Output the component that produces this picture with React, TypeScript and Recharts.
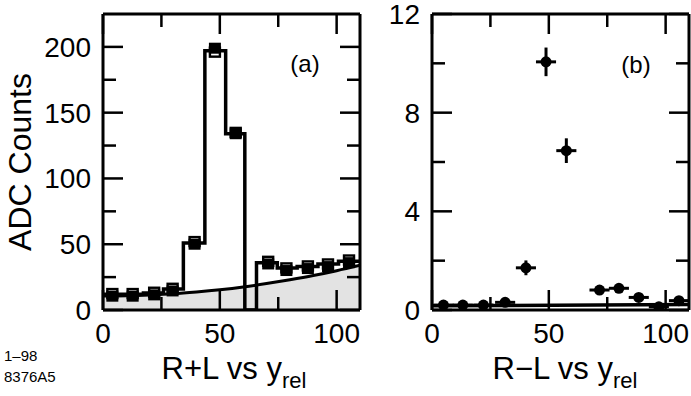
import { ComposedChart, XAxis, YAxis, Line, Area, Scatter, ErrorBar } from 'recharts';

// panel (a): R+L, ADC counts per y_rel bin
const HIST_EDGES = [0, 8.3, 17.3, 25.9, 34.4, 43.6, 52.5, 60.7, 65.7, 74.6, 83.1, 92, 100.8, 110];
const HIST_COUNTS = [12, 12, 13, 16, 51, 197, 134, 0, 36, 32, 33, 35, 37, 37];

const PT_X_A = [4, 12.7, 21.9, 29.8, 39.2, 47.9, 56.8, 70.7, 78.5, 87.7, 96.3, 105.3];
const FILLED_A = [10.5, 10.5, 11.5, 14.5, 50, 199, 134, 35, 30, 31.5, 33, 36];
const OPEN_A = [12.5, 12.5, 13.5, 16.5, 52, 196, 135, 37, 32, 33.5, 35, 38];

const BG_X = [0, 10, 20, 30, 40, 50, 60, 70, 80, 90, 100, 110];
const BG_Y = [10.6, 10.8, 11.4, 12.3, 13.7, 15.4, 17.5, 20.1, 23, 26.2, 29.9, 34];

// panel (b): R-L
const PT_X_B = [4.9, 13.2, 22, 31.3, 40.2, 48.8, 57.5, 71.7, 80, 88.5, 97.1, 105.7];
const VAL_B = [0.2, 0.2, 0.2, 0.31, 1.71, 10.06, 6.46, 0.81, 0.88, 0.51, 0.13, 0.38];
const ERR_Y_B = [0.1, 0.1, 0.1, 0.12, 0.3, 0.58, 0.5, 0.15, 0.15, 0.15, 0.15, 0.15];
const ERR_X_B = [4.3, 4.3, 4.3, 4.3, 4.3, 4.3, 4.3, 4.3, 4.3, 4.3, 4.3, 4.3];
const FIT_B_X = [0, 110];
const FIT_B_Y = [0.17, 0.22];

const X_TICKS = [0, 25, 50, 75, 100];
const X_MAJOR = [0, 50, 100];
const Y_TICKS_A = [0, 25, 50, 75, 100, 125, 150, 175, 200];
const Y_MAJOR_A = [0, 50, 100, 150, 200];
const Y_TICKS_B = [0, 2, 4, 6, 8, 10, 12];
const Y_MAJOR_B = [0, 4, 8, 12];

const FONT = '"Liberation Sans", Arial, Helvetica, sans-serif';
const MAJOR_LEN = 20;
const MINOR_LEN = 13;

const histData = HIST_EDGES.map((x, i) => ({ x, y: HIST_COUNTS[i] }));
const filledA = PT_X_A.map((x, i) => ({ x, y: FILLED_A[i] }));
const openA = PT_X_A.map((x, i) => ({ x, y: OPEN_A[i] }));
const bgData = BG_X.map((x, i) => ({ x, y: BG_Y[i] }));
const ptsB = PT_X_B.map((x, i) => ({ x, y: VAL_B[i], ex: ERR_X_B[i], ey: ERR_Y_B[i] }));
const fitB = FIT_B_X.map((x, i) => ({ x, y: FIT_B_Y[i] }));

type Side = 'bottom' | 'top' | 'left' | 'right';

// ticks point inward, labels only on the major ones of the bottom/left axes
function makeTick(side: Side, majors: number[], showLabel: boolean) {
  return (props: any) => {
    const { x, y, payload } = props;
    const v = payload.value;
    const len = majors.includes(v) ? MAJOR_LEN : MINOR_LEN;
    const ln = { stroke: '#000', strokeWidth: 2.5 };
    let line = null;
    let label = null;
    if (side === 'bottom') {
      line = <line x1={x} y1={y} x2={x} y2={y - len} {...ln} />;
      if (showLabel && majors.includes(v))
        label = <text x={x} y={y + 33} textAnchor="middle" fontSize={28} fontFamily={FONT}>{v}</text>;
    } else if (side === 'top') {
      line = <line x1={x} y1={y} x2={x} y2={y + len} {...ln} />;
    } else if (side === 'left') {
      line = <line x1={x} y1={y} x2={x + len} y2={y} {...ln} />;
      if (showLabel && majors.includes(v))
        label = <text x={x - 12} y={y + 10} textAnchor="end" fontSize={28} fontFamily={FONT}>{v}</text>;
    } else {
      line = <line x1={x} y1={y} x2={x - len} y2={y} {...ln} />;
    }
    return <g>{line}{label}</g>;
  };
}

const AXIS_LINE = { stroke: '#000', strokeWidth: 3 };

const FilledSquare = (p: any) => <rect x={p.cx - 6} y={p.cy - 5.5} width={12} height={11} fill="#000" />;
const OpenSquare = (p: any) => (
  <rect x={p.cx - 5} y={p.cy - 4.5} width={10} height={9} fill="#fff" stroke="#000" strokeWidth={2.4} />
);
const Dot = (p: any) => <circle cx={p.cx} cy={p.cy} r={5.5} fill="#000" />;

function axes(yTicks: number[], yMajor: number[], yMax: number, leftWidth: number) {
  return [
    <XAxis key="xb" dataKey="x" type="number" domain={[0, 110]} ticks={X_TICKS} interval={0}
      height={86} tickSize={0} tickMargin={0} axisLine={AXIS_LINE} tickLine={false}
      tick={makeTick('bottom', X_MAJOR, true)} allowDataOverflow />,
    <XAxis key="xt" xAxisId="top" orientation="top" dataKey="x" type="number" domain={[0, 110]} ticks={X_TICKS}
      interval={0} height={1} tickSize={0} tickMargin={0} axisLine={AXIS_LINE} tickLine={false}
      tick={makeTick('top', X_MAJOR, false)} allowDataOverflow />,
    <YAxis key="yl" type="number" domain={[0, yMax]} ticks={yTicks} interval={0} width={leftWidth}
      tickSize={0} tickMargin={0} axisLine={AXIS_LINE} tickLine={false}
      tick={makeTick('left', yMajor, true)} allowDataOverflow />,
    <YAxis key="yr" yAxisId="right" orientation="right" type="number" domain={[0, yMax]} ticks={yTicks}
      interval={0} width={1} tickSize={0} tickMargin={0} axisLine={AXIS_LINE} tickLine={false}
      tick={makeTick('right', yMajor, false)} allowDataOverflow />,
  ];
}

export default function App() {
  return (
    <div style={{ position: 'absolute', left: 0, top: 0, width: 691, height: 396, background: '#fff', fontFamily: FONT }}>
      <div style={{ position: 'absolute', left: 0, top: 0 }}>
        <ComposedChart width={370} height={396} margin={{ top: 13, right: 9, bottom: 0, left: 0 }}>
          {axes(Y_TICKS_A, Y_MAJOR_A, 225, 103)}
          <Area data={bgData} dataKey="y" type="monotone" fill="#e3e3e3" fillOpacity={1} stroke="#000"
            strokeWidth={3} dot={false} activeDot={false} isAnimationActive={false} />
          <Line data={histData} dataKey="y" type="stepAfter" stroke="#000" strokeWidth={3.5}
            strokeLinejoin="miter" dot={false} activeDot={false} isAnimationActive={false} />
          <Scatter data={openA} dataKey="y" shape={OpenSquare} isAnimationActive={false} />
          <Scatter data={filledA} dataKey="y" shape={FilledSquare} isAnimationActive={false} />
        </ComposedChart>
      </div>
      <div style={{ position: 'absolute', left: 370, top: 0 }}>
        <ComposedChart width={321} height={396} margin={{ top: 13, right: 1, bottom: 0, left: 0 }}>
          {axes(Y_TICKS_B, Y_MAJOR_B, 12, 62)}
          <Line data={fitB} dataKey="y" type="linear" stroke="#000" strokeWidth={3.5}
            dot={false} activeDot={false} isAnimationActive={false} />
          <Scatter data={ptsB} dataKey="y" shape={Dot} isAnimationActive={false}>
            <ErrorBar dataKey="ex" direction="x" width={0} stroke="#000" strokeWidth={3} />
            <ErrorBar dataKey="ey" direction="y" width={0} stroke="#000" strokeWidth={3} />
          </Scatter>
        </ComposedChart>
      </div>
      <svg width={691} height={396} style={{ position: 'absolute', left: 0, top: 0, pointerEvents: 'none' }}
        fontFamily={FONT}>
        <text transform="translate(31,162) rotate(-90)" textAnchor="middle" fontSize={32}>ADC Counts</text>
        <text x={305} y={72} textAnchor="middle" fontSize={24}>(a)</text>
        <text x={636} y={73} textAnchor="middle" fontSize={24}>(b)</text>
        <text x={234} y={379} textAnchor="middle" fontSize={31}>
          R+L vs y<tspan dy={9} fontSize={22}>rel</tspan>
        </text>
        <text x={565} y={379} textAnchor="middle" fontSize={31}>
          R−L vs y<tspan dy={9} fontSize={22}>rel</tspan>
        </text>
        <text x={4} y={361} fontSize={15}>1–98</text>
        <text x={4} y={382} fontSize={15}>8376A5</text>
      </svg>
    </div>
  );
}
